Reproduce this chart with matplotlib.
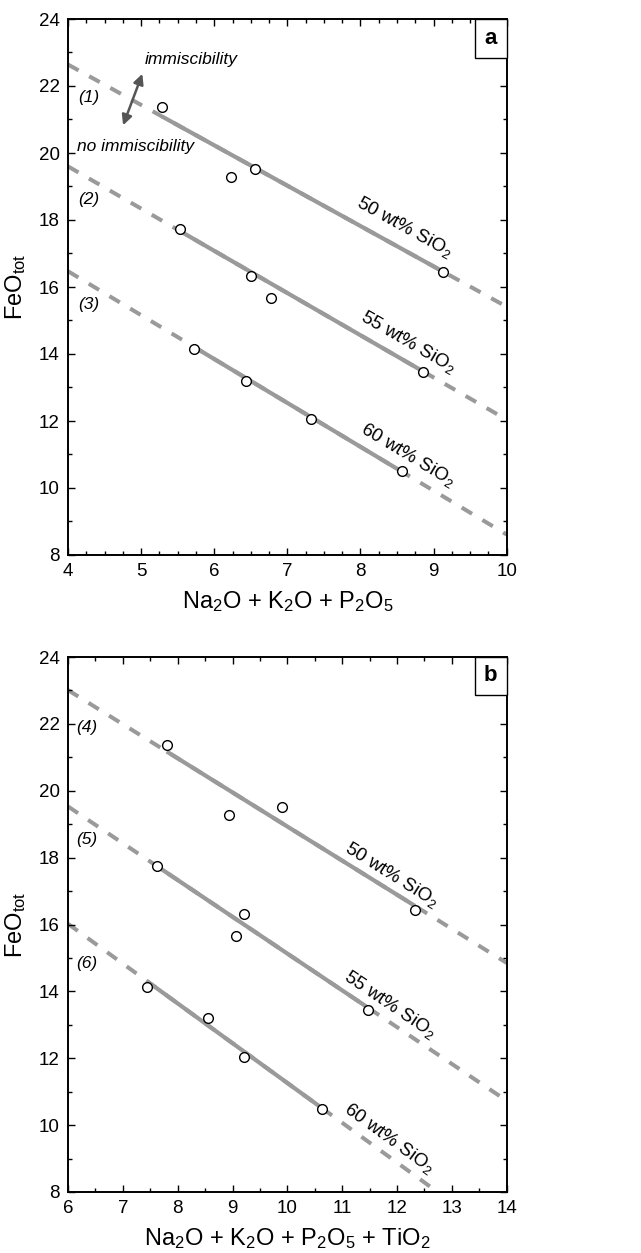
import numpy as np
import matplotlib
matplotlib.use("Agg")
import matplotlib.pyplot as plt
from matplotlib.patches import Rectangle, FancyArrowPatch
from matplotlib.ticker import MultipleLocator

plt.rcParams['font.family'] = ['Liberation Sans', 'DejaVu Sans']
plt.rcParams['mathtext.fontset'] = 'custom'
plt.rcParams['mathtext.rm'] = 'Liberation Sans'
plt.rcParams['mathtext.it'] = 'Liberation Sans:italic'

# ---------------- Data ----------------
silica_labels = ['50 wt% SiO$_2$', '55 wt% SiO$_2$', '60 wt% SiO$_2$']

# panel a: x = Na2O + K2O + P2O5
a_x = [[5.29, 6.23, 6.56, 9.13],
       [5.53, 6.50, 6.77, 8.86],
       [5.73, 6.43, 7.33, 8.57]]
a_y = [[21.37, 19.27, 19.51, 16.45],
       [17.73, 16.32, 15.66, 13.45],
       [14.16, 13.20, 12.07, 10.50]]
# boundary lines (1)-(3): intercept at x=4, slope
a_line_x0 = 4.0
a_line_b = [22.64, 19.60, 16.47]
a_line_m = [-1.205, -1.26, -1.31]
a_line_names = ['(1)', '(2)', '(3)']

# panel b: x = Na2O + K2O + P2O5 + TiO2
b_x = [[7.80, 8.94, 9.91, 12.33],
       [7.62, 9.06, 9.21, 11.47],
       [7.44, 8.55, 9.21, 10.63]]
b_y = [[21.37, 19.28, 19.51, 16.43],
       [17.76, 15.66, 16.31, 13.43],
       [14.14, 13.19, 12.05, 10.48]]
b_line_x0 = 6.0
b_line_b = [23.01, 19.53, 16.02]
b_line_m = [-1.02, -1.10, -1.19]
b_line_names = ['(4)', '(5)', '(6)']

GRAY = '#9a9a9a'

fig = plt.figure(figsize=(6.41, 12.53), dpi=100)
ax_a = fig.add_axes([68/641, 1 - 555/1253, 438.7/641, 536/1253])
ax_b = fig.add_axes([68/641, 1 - 1192/1253, 438.7/641, 535/1253])


def draw_panel(ax, xs, ys, x0, bs, ms, names, xlim, name_pos, lab_pos, lab_rot,
               xlabel, letter, box_h, xminor):
    xx = np.array(xlim, dtype=float)
    for b, m in zip(bs, ms):
        ax.plot(xx, b + m * (xx - x0), color=GRAY, lw=2.9,
                linestyle=(0, (3.0, 3.0)), zorder=1, solid_capstyle='butt')
    for px, py, b, m in zip(xs, ys, bs, ms):
        lx = np.array([min(px), max(px)])
        ax.plot(lx, b + m * (lx - x0), color=GRAY, lw=3.0, zorder=2,
                solid_capstyle='butt')
        ax.plot(px, py, 'o', ms=7, mfc='white', mec='black', mew=1.0,
                zorder=3, linestyle='none')
    for nm, (tx, ty) in zip(names, name_pos):
        ax.text(tx, ty, nm, style='italic', fontsize=12.5, ha='center',
                va='center', zorder=4)
    for lab, (tx, ty), r in zip(silica_labels, lab_pos, lab_rot):
        ax.text(tx, ty, lab, fontsize=13.5, rotation=r, ha='center',
                va='center', rotation_mode='anchor', zorder=4)
    ax.set_xlim(*xlim)
    ax.set_ylim(8, 24)
    ax.xaxis.set_major_locator(MultipleLocator(1))
    ax.xaxis.set_minor_locator(MultipleLocator(xminor))
    ax.yaxis.set_major_locator(MultipleLocator(2))
    ax.yaxis.set_minor_locator(MultipleLocator(1))
    ax.tick_params(which='both', direction='in', top=True, right=True,
                   labelsize=13.5, width=1.0)
    ax.tick_params(which='major', length=5, pad=6)
    ax.tick_params(which='minor', length=3)
    for s in ax.spines.values():
        s.set_linewidth(1.4)
    ax.set_xlabel(xlabel, fontsize=17, labelpad=6)
    ax.set_ylabel(r'FeO$_{\mathrm{tot}}$', fontsize=17, labelpad=8)
    w = 32 / 438.7
    h = box_h / 536
    ax.add_patch(Rectangle((1 - w, 1 - h), w, h, transform=ax.transAxes,
                           facecolor='white', edgecolor='black', lw=1.0,
                           zorder=5, clip_on=False))
    ax.text(1 - w / 2, 1 - h / 2, letter, transform=ax.transAxes,
            fontsize=16, fontweight='bold', ha='center', va='center', zorder=6)


draw_panel(ax_a, a_x, a_y, a_line_x0, a_line_b, a_line_m, a_line_names,
           (4, 10), [(4.28, 21.65), (4.28, 18.6), (4.28, 15.47)],
           [(8.6, 17.78), (8.65, 14.35), (8.65, 11.0)], [-29, -30, -31],
           'Na$_2$O + K$_2$O + P$_2$O$_5$', 'a', 39, 0.25)

draw_panel(ax_b, b_x, b_y, b_line_x0, b_line_b, b_line_m, b_line_names,
           (6, 14), [(6.34, 21.9), (6.34, 18.53), (6.34, 14.84)],
           [(11.9, 17.5), (11.86, 13.6), (11.86, 9.62)], [-32, -34, -36],
           'Na$_2$O + K$_2$O + P$_2$O$_5$ + TiO$_2$', 'b', 38, 0.5)

# immiscibility annotation (panel a)
ax_a.text(5.05, 22.79, 'immiscibility', style='italic', fontsize=12.5,
          ha='left', va='center')
ax_a.text(4.12, 20.2, 'no immiscibility', style='italic', fontsize=12.5,
          ha='left', va='center')
ax_a.add_patch(FancyArrowPatch((4.74, 20.75), (5.03, 22.44),
                               arrowstyle='<|-|>,head_length=6,head_width=3',
                               color='#555555', lw=1.8, zorder=4))

fig.savefig('out.png', dpi=100)
